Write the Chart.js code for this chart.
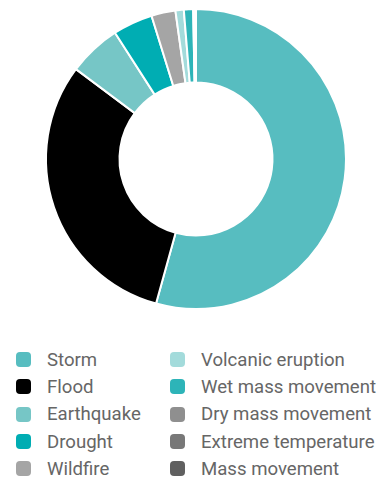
<!DOCTYPE html>
<html>
<head>
<meta charset="utf-8">
<script src="https://cdn.jsdelivr.net/npm/chart.js@4"></script>
<style>
  body { margin: 0; background: #fff; font-family: Roboto, sans-serif; }
  #wrap { position: relative; width: 381px; height: 320px; }
  #legend { position: absolute; left: 16px; top: 346px; display: grid;
            grid-template-columns: 154px 215px; grid-auto-rows: 27.3px; }
  .item { display: flex; align-items: center; font-size: 18.6px; color: #666; white-space: nowrap; }
  .box { width: 15px; height: 15px; border-radius: 4px; margin-right: 16px; flex: none; }
</style>
</head>
<body>
<div id="wrap"><canvas id="myChart"></canvas></div>
<div id="legend"></div>
<script>
const labels = ['Storm', 'Flood', 'Earthquake', 'Drought', 'Wildfire',
  'Volcanic eruption', 'Wet mass movement', 'Dry mass movement', 'Extreme temperature', 'Mass movement'];
const values = [54.4, 31.0, 5.7, 4.3, 2.6, 0.9, 1.0, 0.1, 0.1, 0.1];
const colors = ['#57bdc0', '#000000', '#76c6c6', '#00adb3', '#a5a5a5',
  '#a3dbdb', '#2db4b8', '#8f8f8f', '#787878', '#606060'];

const data = {
  labels: labels,
  datasets: [{
    data: values,
    backgroundColor: colors,
    borderColor: '#ffffff',
    borderWidth: 2
  }]
};

const config = {
  type: 'doughnut',
  data: data,
  options: {
    responsive: true,
    maintainAspectRatio: false,
    animation: false,
    cutout: '51%',
    layout: { padding: { left: 11, top: 8, bottom: 10 } },
    plugins: {
      legend: { display: false },
      tooltip: { enabled: false }
    }
  }
};

const myChart = new Chart(document.getElementById('myChart'), config);

// legend in two columns, same order as reference
const legend = document.getElementById('legend');
const order = [0, 5, 1, 6, 2, 7, 3, 8, 4, 9];
order.forEach(i => {
  const d = document.createElement('div');
  d.className = 'item';
  d.innerHTML = '<span class="box" style="background:' + colors[i] + '"></span>' + labels[i];
  legend.appendChild(d);
});
</script>
</body>
</html>
